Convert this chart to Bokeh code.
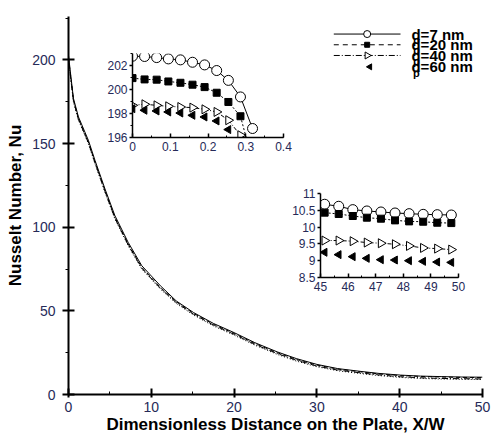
import numpy as np
from bokeh.plotting import figure
from bokeh.models import GridBox, SingleIntervalTicker, NumeralTickFormatter, Label, Range1d
from bokeh.embed import file_html
from bokeh.resources import INLINE

# ---------------- data ----------------
# Nusselt number along the plate for four nanoparticle diameters
x_main = [0, 0.2, 0.6, 1.2, 2.4, 3.2, 4.4, 5.6, 7.2, 8.85, 11.1, 13, 15.1, 17.5, 20,
          22.5, 25.2, 27.5, 30, 32.5, 35.3, 37.5, 40.1, 42.5, 45, 47.5, 50]
nu_7nm = [202.8, 194, 177, 166, 152, 140, 123, 107, 91, 77, 65, 56, 49, 42.5, 37,
          31, 25.5, 21.5, 18, 15.5, 13.8, 12.6, 11.6, 11.0, 10.7, 10.45, 10.35]
nu_20nm = [201.0, 193, 176, 165, 151, 139, 122, 106, 90, 76, 64, 55.5, 48.5, 42, 36.5,
           30.5, 25, 21, 17.6, 15.2, 13.5, 12.3, 11.3, 10.8, 10.45, 10.2, 10.1]
nu_40nm = [198.7, 192, 175.5, 164.5, 150.5, 138.5, 121.5, 105.5, 89.5, 75.5, 63.5, 55, 48,
           41.5, 36, 30, 24.5, 20.5, 17, 14.6, 12.9, 11.7, 10.6, 10.0, 9.6, 9.45, 9.3]
nu_60nm = [198.4, 191.5, 175, 164, 150, 138, 121, 105, 89, 75, 63, 54.5, 47.5, 41, 35.5,
           29.5, 24, 20, 16.6, 14.2, 12.5, 11.3, 10.2, 9.6, 9.25, 9.05, 8.95]

# leading-edge detail
x_lead = [0, 0.032, 0.064, 0.095, 0.127, 0.159, 0.191, 0.223, 0.254, 0.286, 0.318]
lead_7nm = [202.77, 202.75, 202.66, 202.55, 202.47, 202.27, 202.05, 201.58, 200.76, 199.38, 196.75]
lead_20nm = [200.95, 200.84, 200.82, 200.67, 200.56, 200.40, 200.20, 199.73, 198.96, 197.77, 194.0]
lead_40nm = [198.68, 198.77, 198.68, 198.60, 198.54, 198.49, 198.35, 198.13, 197.44, 196.19, 194.5]
lead_60nm = [198.40, 198.27, 198.21, 198.13, 198.04, 197.85, 197.71, 197.38, 196.66, 195.5, 194.0]

# trailing-edge detail
x_trail = [45.15, 45.66, 46.17, 46.68, 47.19, 47.70, 48.21, 48.72, 49.23, 49.74]
trail_7nm = [10.68, 10.62, 10.52, 10.48, 10.45, 10.42, 10.40, 10.38, 10.37, 10.36]
trail_20nm = [10.43, 10.39, 10.33, 10.28, 10.25, 10.20, 10.17, 10.16, 10.13, 10.12]
trail_40nm = [9.60, 9.60, 9.58, 9.54, 9.52, 9.49, 9.44, 9.38, 9.36, 9.33]
trail_60nm = [9.25, 9.18, 9.12, 9.07, 9.03, 9.02, 9.00, 8.98, 8.96, 8.95]

legend_labels = ["d=7 nm", "d=20 nm", "d=40 nm", "d=60 nm"]

FONT = "Liberation Sans"
TICK_COLOR = "#262a58"


def base_axes(fig, label_size, tick_w):
    fig.outline_line_color = None
    fig.grid.visible = False
    for ax in (fig.xaxis, fig.yaxis):
        ax.axis_line_color = "black"
        ax.major_tick_line_color = "black"
        ax.minor_tick_line_color = "black"
        ax.major_label_text_font = FONT
        ax.major_label_text_font_size = label_size
        ax.major_label_text_color = TICK_COLOR
        ax.axis_line_width = tick_w
        ax.major_tick_line_width = tick_w
        ax.minor_tick_line_width = 1


# ---------------- main plot ----------------
p = figure(width=492, height=437, x_range=Range1d(0, 50), y_range=Range1d(0, 226),
           output_backend="svg", toolbar_location=None,
           min_border_left=68, min_border_right=10, min_border_top=16, min_border_bottom=43)
base_axes(p, "14px", 2)
p.xaxis.ticker = SingleIntervalTicker(interval=10, num_minor_ticks=2)
p.yaxis.ticker = SingleIntervalTicker(interval=50, num_minor_ticks=2)
p.xaxis.major_tick_in = 6
p.xaxis.major_tick_out = 3
p.xaxis.minor_tick_in = 3
p.xaxis.minor_tick_out = 0
p.yaxis.major_tick_in = 6
p.yaxis.major_tick_out = 6
p.yaxis.minor_tick_in = 0
p.yaxis.minor_tick_out = 3
p.xaxis.major_label_standoff = 4
p.yaxis.major_label_standoff = 7
p.xaxis.axis_label = "Dimensionless Distance on the Plate, X/W"
p.yaxis.axis_label = "Nusselt Number, Nu"
for ax in (p.xaxis, p.yaxis):
    ax.axis_label_text_font = FONT
    ax.axis_label_text_font_style = "bold"
    ax.axis_label_text_color = "black"
    ax.axis_label_text_font_size = "17px"
p.xaxis.axis_label_standoff = 0
p.yaxis.axis_label_standoff = 4

p.line(x_main, nu_60nm, line_color="black", line_width=1, line_dash="1 2")
p.line(x_main, nu_40nm, line_color="black", line_width=1, line_dash="6 2 1 2")
p.line(x_main, nu_20nm, line_color="black", line_width=1, line_dash="4 3")
p.line(x_main, nu_7nm, line_color="black", line_width=1)

# legend drawn in the upper right corner
leg_y = [215.5, 209.1, 202.7, 195.9]
leg_x0, leg_x1, leg_xm = 32.04, 40.1, 36.07
p.line([leg_x0, leg_x1], [leg_y[0]] * 2, line_color="black", line_width=1)
p.scatter([leg_xm], [leg_y[0]], marker="circle", size=7, fill_color="white", line_color="black")
p.line([leg_x0, leg_x1], [leg_y[1]] * 2, line_color="black", line_width=1, line_dash="5 4")
p.scatter([leg_xm], [leg_y[1]], marker="square", size=5, fill_color="black", line_color="black")
p.line([leg_x0, leg_x1], [leg_y[2]] * 2, line_color="black", line_width=1, line_dash="6 2 1 2")
p.scatter([leg_xm], [leg_y[2]], marker="triangle", angle=-np.pi / 2, size=7,
          fill_color="white", line_color="black")
p.scatter([36.4], [leg_y[3]], marker="triangle", angle=np.pi / 2, size=6,
          fill_color="black", line_color="black")
for lbl, yy in zip(legend_labels, leg_y):
    p.add_layout(Label(x=41.42, y=yy, text=lbl, text_font=FONT, text_font_style="bold",
                       text_font_size="15px", text_baseline="middle", text_color="black"))
    p.add_layout(Label(x=41.6, y=yy - 3.4, text="p", text_font=FONT, text_font_style="bold",
                       text_font_size="11px", text_baseline="middle", text_color="black"))


def inset(width, height, xr, yr, borders):
    f = figure(width=width, height=height, x_range=Range1d(*xr), y_range=Range1d(*yr),
               output_backend="svg", toolbar_location=None,
               min_border_left=borders[0], min_border_right=borders[1],
               min_border_top=borders[2], min_border_bottom=borders[3])
    f.background_fill_alpha = 0
    f.border_fill_alpha = 0
    base_axes(f, "12px", 1.5)
    f.xaxis.major_tick_in = 4
    f.xaxis.major_tick_out = 0
    f.xaxis.minor_tick_in = 2
    f.xaxis.minor_tick_out = 0
    f.yaxis.major_tick_in = 0
    f.yaxis.major_tick_out = 3
    f.yaxis.minor_tick_in = 0
    f.yaxis.minor_tick_out = 2
    f.xaxis.major_label_standoff = 4
    f.yaxis.major_label_standoff = 2
    f.xaxis.formatter = NumeralTickFormatter(format="0.[0]")
    f.yaxis.formatter = NumeralTickFormatter(format="0.[0]")
    return f


def draw_series(f, x, s7, s20, s40, s60, msize):
    f.line(x, s7, line_color="black", line_width=1)
    f.scatter(x, s7, marker="circle", size=msize + 1, fill_color="white", line_color="black")
    f.line(x, s20, line_color="black", line_width=1, line_dash="2 2")
    f.scatter(x, s20, marker="square", size=msize - 2, fill_color="black", line_color="black")
    f.line(x, s40, line_color="black", line_width=1, line_dash="4 2 1 2")
    f.scatter(x, s40, marker="triangle", angle=-np.pi / 2, size=msize,
              fill_color="white", line_color="black")
    f.scatter(x, s60, marker="triangle", angle=np.pi / 2, size=msize - 1,
              fill_color="black", line_color="black")


# ---------------- leading-edge inset ----------------
f1 = inset(190, 108, (0, 0.4), (196, 203), (27, 11, 3, 21))
f1.xaxis.ticker = SingleIntervalTicker(interval=0.1, num_minor_ticks=2)
f1.yaxis.ticker = SingleIntervalTicker(interval=2, num_minor_ticks=2)
draw_series(f1, x_lead, lead_7nm, lead_20nm, lead_40nm, lead_60nm, 9)

# ---------------- trailing-edge inset ----------------
f2 = inset(182, 117, (45, 50), (8.5, 11), (32, 12, 8, 25))
f2.xaxis.ticker = SingleIntervalTicker(interval=1, num_minor_ticks=2)
f2.yaxis.ticker = SingleIntervalTicker(interval=0.5, num_minor_ticks=0)
f2.yaxis.minor_tick_line_color = None
draw_series(f2, x_trail, trail_7nm, trail_20nm, trail_40nm, trail_60nm, 9)

layout = GridBox(
    children=[(p, 0, 0, 5, 5), (f1, 1, 1, 1, 2), (f2, 3, 2, 1, 2)],
    cols=["104px", "184px", "6px", "176px", "22px"],
    rows=["50px", "108px", "27px", "117px", "135px"],
)

with open("out.html", "w") as fh:
    fh.write(file_html(layout, INLINE))
